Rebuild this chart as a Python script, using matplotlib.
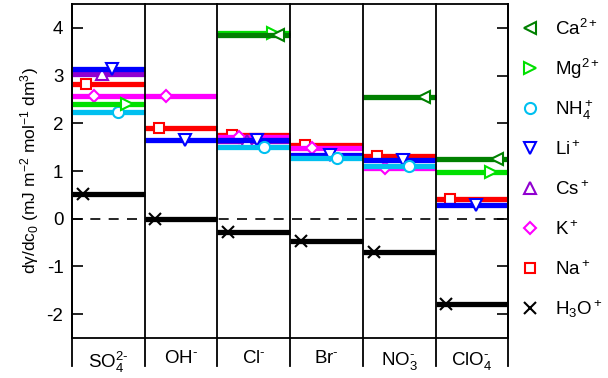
import numpy as np
import matplotlib.pyplot as plt
from matplotlib.transforms import blended_transform_factory

plt.rcParams['font.family'] = ['Liberation Sans', 'DejaVu Sans']
plt.rcParams['mathtext.fontset'] = 'custom'
plt.rcParams['mathtext.rm'] = 'Liberation Sans'
plt.rcParams['mathtext.it'] = 'Liberation Sans:italic'
plt.rcParams['mathtext.default'] = 'regular'
plt.rcParams['axes.unicode_minus'] = False

anions = ['SO$_4^{2\u2010}$', 'OH$^{\u2010}$', 'Cl$^{\u2010}$', 'Br$^{\u2010}$',
          'NO$_3^{\u2010}$', 'ClO$_4^{\u2010}$']
nan = np.nan
# values per cation, one entry per anion (SO4, OH, Cl, Br, NO3, ClO4)
ca = [nan, nan, 3.86, nan, 2.56, 1.25]
mg = [2.41, nan, 3.90, nan, nan, 0.98]
nh4 = [2.24, nan, 1.51, 1.27, 1.11, nan]
li = [3.14, 1.66, 1.66, 1.33, 1.24, 0.29]
cs = [3.03, nan, 1.62, nan, nan, nan]
k = [2.58, 2.57, 1.71, 1.48, 1.07, nan]
na = [2.83, 1.91, 1.76, 1.55, 1.31, 0.42]
h3o = [0.52, 0.0, -0.27, -0.46, -0.69, -1.78]

cations = ['Ca$^{2+}$', 'Mg$^{2+}$', 'NH$_4^+$', 'Li$^+$', 'Cs$^+$', 'K$^+$', 'Na$^+$', 'H$_3$O$^+$']
series = [ca, mg, nh4, li, cs, k, na, h3o]
colors = ['#008000', '#00e000', '#00c0f0', '#0000ff', '#9000d0', '#ff00ff', '#ff0000', '#000000']
markers = ['<', '>', 'o', 'v', '^', 'D', 's', 'x']
msizes = [8, 8, 8, 8, 8, 6.5, 7.5, 8.5]
mpos = [0.84, 0.76, 0.64, 0.55, 0.41, 0.30, 0.20, 0.15]

fig = plt.figure(figsize=(6.08, 3.78), dpi=100)
ax = fig.add_axes([0.118, 0.106, 0.718, 0.883])

n = len(anions)


def mark(x, y, j, **kw):
    if markers[j] == 'x':
        ax.plot(x, y, marker='x', color='k', ms=msizes[j], mew=1.5, ls='none', **kw)
    else:
        ax.plot(x, y, marker=markers[j], mfc='white', mec=colors[j],
                ms=msizes[j], mew=1.5, ls='none', **kw)


# draw in reverse legend order so Ca ends up on top
for j in range(len(series) - 1, -1, -1):
    z = 10 + (len(series) - j) * 2
    for i, v in enumerate(series[j]):
        if np.isnan(v):
            continue
        ax.plot([i, i + 1], [v, v], color=colors[j], lw=3.8,
                solid_capstyle='butt', zorder=z)
        mark(i + mpos[j], v, j, zorder=z + 1)

ax.axhline(0, color='k', lw=1.2, ls=(0, (6, 5)), zorder=5)

ax.set_xlim(0, n)
ax.set_ylim(-2.5, 4.5)
ax.set_yticks([-2, -1, 0, 1, 2, 3, 4])
ax.set_xticks([])
ax.tick_params(axis='y', direction='in', length=8, width=1.2, right=True,
               labelsize=13.5, pad=6)
for s in ax.spines.values():
    s.set_linewidth(1.3)

trans = blended_transform_factory(ax.transData, ax.transAxes)
for i in range(n + 1):
    ax.plot([i, i], [1, -0.085], color='k', lw=1.3, transform=trans,
            clip_on=False, zorder=30)
for i, lab in enumerate(anions):
    ax.text(i + 0.5, -0.035, lab, transform=trans, ha='center', va='top',
            fontsize=13.5)

ax.set_ylabel('dγ/dc$_0$ (mJ m$^{-2}$ mol$^{-1}$ dm$^3$)', fontsize=12.5,
              labelpad=4)

# legend drawn by hand, outside the axes on the right
for j, lab in enumerate(cations):
    yy = 0.93 - j * 0.12
    if markers[j] == 'x':
        ax.plot(1.05, yy, marker='x', color='k', ms=msizes[j], mew=1.5,
                transform=ax.transAxes, clip_on=False)
    else:
        ax.plot(1.05, yy, marker=markers[j], mfc='white', mec=colors[j],
                ms=msizes[j], mew=1.5, transform=ax.transAxes, clip_on=False)
    ax.text(1.108, yy - 0.022, lab, transform=ax.transAxes, ha='left',
            va='baseline', fontsize=13.5)

plt.savefig('out.png', dpi=100)
plt.close('all')
